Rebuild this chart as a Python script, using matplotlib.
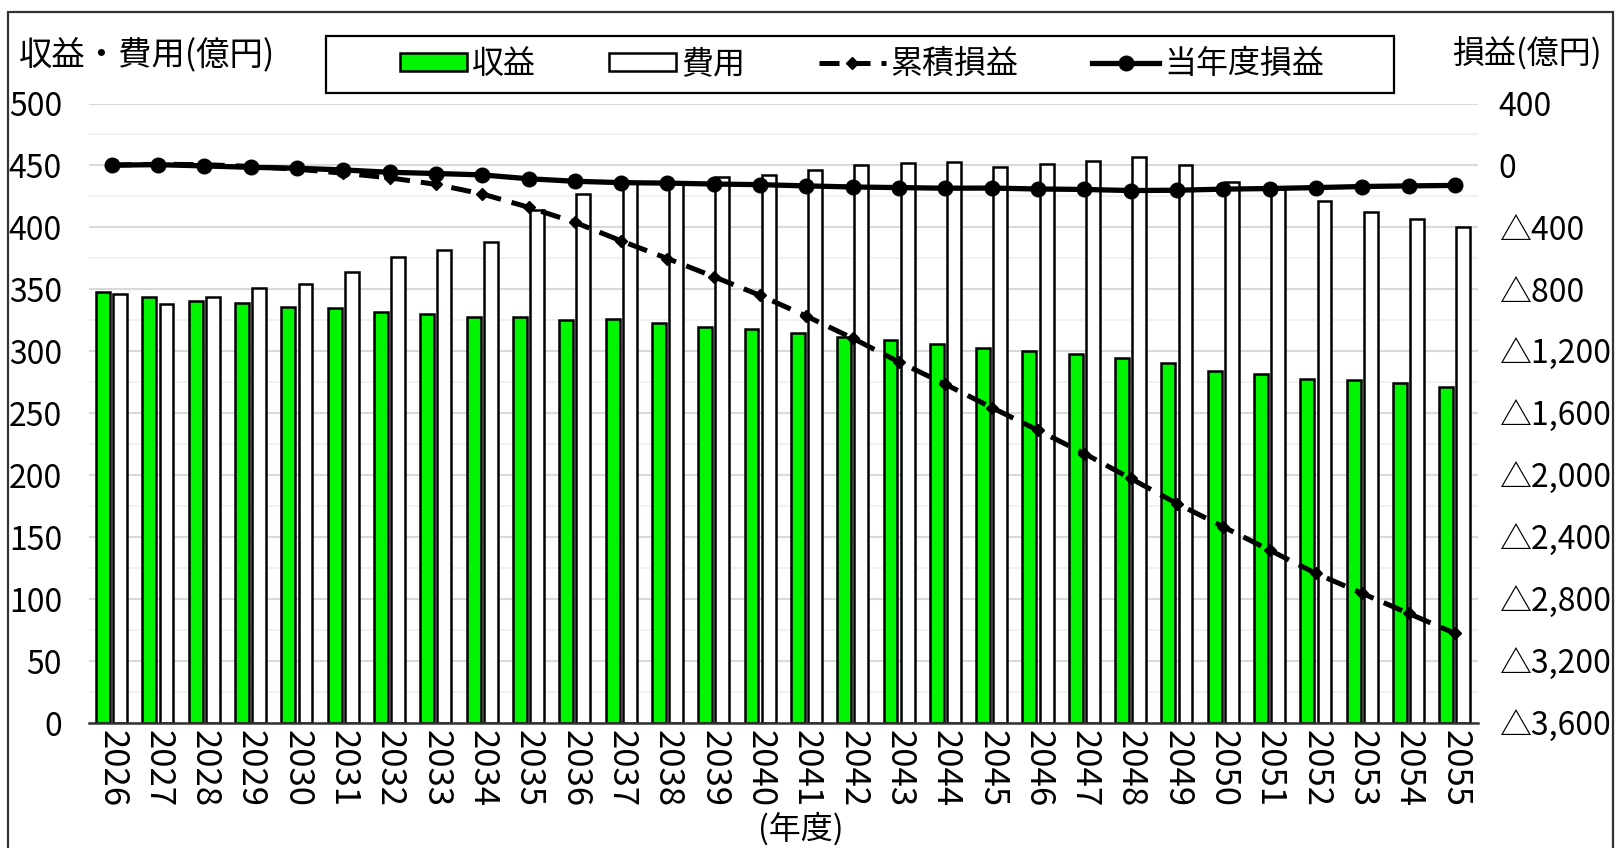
import matplotlib.pyplot as plt
from matplotlib.patches import Rectangle
import numpy as np

plt.rcParams['font.family'] = ['Noto Sans CJK JP', 'DejaVu Sans']

# 年度
years = ['2026', '2027', '2028', '2029', '2030', '2031', '2032', '2033', '2034', '2035',
         '2036', '2037', '2038', '2039', '2040', '2041', '2042', '2043', '2044', '2045',
         '2046', '2047', '2048', '2049', '2050', '2051', '2052', '2053', '2054', '2055']

# 収益・費用 (億円, 左軸)
revenue = [348, 344, 341, 339, 336, 335, 332, 330, 328, 328,
           325, 326, 323, 320, 318, 315, 311.5, 309.5, 306, 303,
           300, 298, 294.5, 290.5, 284, 282, 278, 276.5, 274.5, 271.5]
cost = [346, 338, 343.5, 351, 354, 364, 376, 382, 388, 414,
        427, 437, 436.5, 440.5, 442.5, 446.5, 450, 452, 452.5, 449,
        451.5, 453.5, 456.5, 450.5, 437, 431, 421, 412.5, 406.5, 400]

# 損益 (億円, 右軸)
annual = [2, 5, -3, -12, -18, -29, -44, -52, -61, -86,
          -102, -111, -114, -120, -124, -132, -139, -143, -147, -146,
          -152, -155, -162, -160, -153, -149, -143, -136, -132, -129]
cumulative = [2, 8, 5, -6, -24, -50, -80, -122, -184, -270,
              -367, -487, -601, -718, -839, -973, -1116, -1269, -1413, -1563,
              -1710, -1860, -2021, -2183, -2333, -2484, -2634, -2763, -2892, -3021]

right_ticks = [400, 0, -400, -800, -1200, -1600, -2000, -2400, -2800, -3200, -3600]
right_labels = ['400', '0', '△400', '△800', '△1,200', '△1,600', '△2,000',
                '△2,400', '△2,800', '△3,200', '△3,600']

W, H = 1621, 848
fs = 23

fig = plt.figure(figsize=(W / 100, H / 100), dpi=100)
ax = fig.add_axes([88.5 / W, 1 - 723 / H, (1478 - 88.5) / W, (723 - 103.5) / H])

x = np.arange(len(years))
ax.bar(x - 0.185, revenue, width=0.3, color='#00F500', edgecolor='black',
       linewidth=1.8, label='収益', zorder=2)
ax.bar(x + 0.185, cost, width=0.3, color='white', edgecolor='black',
       linewidth=1.8, label='費用', zorder=2)

ax.set_xlim(-0.5, len(years) - 0.5)
ax.set_ylim(0, 500)
ax.set_yticks(range(0, 501, 50))
ax.set_yticks(range(25, 500, 50), minor=True)
ax.grid(axis='y', which='major', color='#D9D9D9', linewidth=1.5)
ax.grid(axis='y', which='minor', color='#EFEFEF', linewidth=1.2)
ax.set_axisbelow(True)
for s in ['top', 'left', 'right']:
    ax.spines[s].set_visible(False)
ax.spines['bottom'].set_color('#333333')
ax.spines['bottom'].set_linewidth(1.8)
ax.set_xticks(x, years, rotation=-90)
ax.tick_params(axis='both', which='both', length=0, labelsize=fs)
ax.tick_params(axis='x', pad=5, labelsize=25)
ax.tick_params(axis='y', pad=19)

ax2 = ax.twinx()
ax2.set_ylim(-3600, 400)
ax2.set_yticks(right_ticks, right_labels)
ax2.plot(x, cumulative, linestyle=(0, (4, 2.2)), linewidth=3.6, color='black',
         marker='D', markersize=6, label='累積損益')
ax2.plot(x, annual, linestyle='-', linewidth=3.8, color='black',
         marker='o', markersize=10.5, label='当年度損益')
for s in ax2.spines.values():
    s.set_visible(False)
ax2.tick_params(axis='y', length=0, labelsize=fs, pad=15)

# 凡例
h1, l1 = ax.get_legend_handles_labels()
h2, l2 = ax2.get_legend_handles_labels()
fig.legend(h1 + h2, l1 + l2, ncol=4, loc='center',
           bbox_to_anchor=(862 / W, 1 - 64 / H), frameon=False, fontsize=fs,
           handlelength=2.1, handletextpad=0.15, columnspacing=2.3, handleheight=0.5)
fig.patches.append(Rectangle((326 / W, 1 - 93 / H), 1068 / W, 57 / H,
                             transform=fig.transFigure, fill=False,
                             edgecolor='black', linewidth=1.6))

# 軸タイトル
fig.text(19 / W, 1 - 55 / H, '収益・費用(億円)', ha='left', va='center', fontsize=24)
fig.text(1452 / W, 1 - 54 / H, '損益(億円)', ha='left', va='center', fontsize=fs)
fig.text(801 / W, 1 - 829 / H, '(年度)', ha='center', va='center', fontsize=fs)

# 外枠
fig.patches.append(Rectangle((8 / W, -0.02), (1613 - 8) / W, 1.02 - 12 / H,
                             transform=fig.transFigure, fill=False,
                             edgecolor='#333333', linewidth=1.6))

fig.savefig('out.png', dpi=100)
